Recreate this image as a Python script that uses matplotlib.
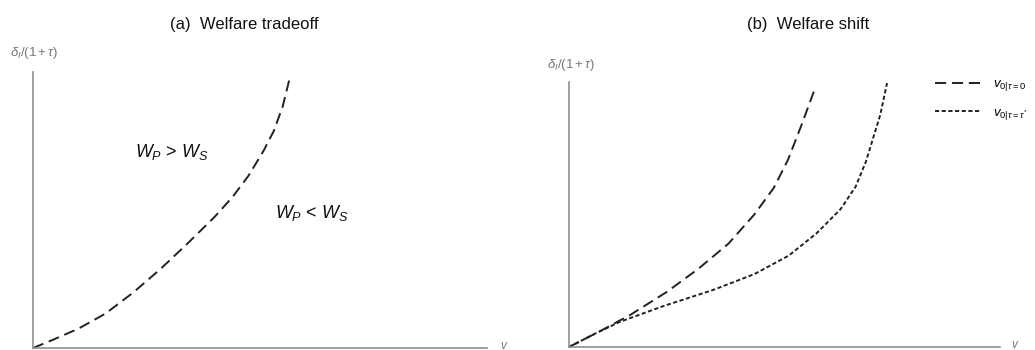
import matplotlib
matplotlib.use("Agg")
import matplotlib.pyplot as plt

plt.rcParams['font.family'] = ['Liberation Sans', 'DejaVu Sans']
plt.rcParams['mathtext.fontset'] = 'custom'
plt.rcParams['mathtext.rm'] = 'Liberation Sans'
plt.rcParams['mathtext.it'] = 'Liberation Sans:italic'
plt.rcParams['mathtext.bf'] = 'Liberation Sans:bold'
plt.rcParams['lines.scale_dashes'] = False

# Panel (a): boundary curve between regions (normalised axes)
tradeoff_v = [0.0, 0.04, 0.10, 0.16, 0.22, 0.28, 0.34, 0.40, 0.44, 0.475, 0.508, 0.53, 0.55, 0.566]
tradeoff_d = [0.0, 0.027, 0.07, 0.125, 0.20, 0.285, 0.378, 0.475, 0.548, 0.625, 0.715, 0.785, 0.875, 0.982]

# Panel (b): two curves
shift_v_tau0 = [0.0, 0.07, 0.142, 0.227, 0.30, 0.37, 0.43, 0.475, 0.508, 0.54, 0.571]
shift_d_tau0 = [0.0, 0.058, 0.121, 0.208, 0.295, 0.39, 0.50, 0.60, 0.706, 0.84, 0.977]
shift_v_taustar = [0.0, 0.06, 0.118, 0.22, 0.334, 0.43, 0.51, 0.575, 0.63, 0.665, 0.689, 0.705, 0.722, 0.738]
shift_d_taustar = [0.0, 0.05, 0.095, 0.155, 0.215, 0.275, 0.345, 0.43, 0.52, 0.605, 0.70, 0.785, 0.875, 0.996]

titles = ["(a)  Welfare tradeoff", "(b)  Welfare shift"]
ylabel = r"$\delta_I/(1+\tau)$"
xlabel = r"$v$"
region_labels = [r"$W_P$ > $W_S$", r"$W_P$ < $W_S$"]
legend_labels = [r"$v_{0|\tau=0}$", r"$v_{0|\tau=\tau^{*}}$"]

W, H = 1035, 350
fig = plt.figure(figsize=(W / 100, H / 100), dpi=100)

def fx(px):
    return px / W

def fy(py):
    return 1 - py / H

axis_col = '#8f8f8f'
curve_col = '#222222'
long_dash = (0, (8.0, 4.2))
short_dash = (0, (3.0, 1.8))

def make_axes(x0, x1, ytop, ybot):
    ax = fig.add_axes([fx(x0), fy(ybot), fx(x1) - fx(x0), fy(ytop) - fy(ybot)])
    ax.set_xlim(0, 1)
    ax.set_ylim(0, 1)
    for s in ['top', 'right']:
        ax.spines[s].set_visible(False)
    for s in ['left', 'bottom']:
        ax.spines[s].set_color(axis_col)
        ax.spines[s].set_linewidth(1.2)
    ax.set_xticks([])
    ax.set_yticks([])
    ax.patch.set_alpha(0)
    return ax

ax1 = make_axes(33, 487, 72, 348)
ax1.plot(tradeoff_v, tradeoff_d, color=curve_col, lw=1.4, linestyle=long_dash, clip_on=False)
ax1.text(0.225, 0.71, region_labels[0], fontsize=13, ha='left', va='center', color='#111111')
ax1.text(0.533, 0.489, region_labels[1], fontsize=13, ha='left', va='center', color='#111111')

ax2 = make_axes(569, 1000, 82, 347)
l1, = ax2.plot(shift_v_tau0, shift_d_tau0, color=curve_col, lw=1.4, linestyle=long_dash, clip_on=False)
l2, = ax2.plot(shift_v_taustar, shift_d_taustar, color=curve_col, lw=1.4, linestyle=short_dash, clip_on=False)

fig.legend([l1, l2], legend_labels, loc='center left', frameon=False,
           bbox_to_anchor=(fx(930), fy(100)), fontsize=9.5, handlelength=3.5,
           handletextpad=0.9, labelspacing=1.0, borderaxespad=0)

fig.text(fx(170), fy(25), titles[0], fontsize=12, ha='left', va='center', color='#111111')
fig.text(fx(747), fy(25), titles[1], fontsize=12, ha='left', va='center', color='#111111')

fig.text(fx(10), fy(53), ylabel, fontsize=9.5, ha='left', va='center', color='#777777')
fig.text(fx(547), fy(65), ylabel, fontsize=9.5, ha='left', va='center', color='#777777')
fig.text(fx(500), fy(346), xlabel, fontsize=8.5, ha='left', va='center', color='#777777')
fig.text(fx(1011), fy(345), xlabel, fontsize=8.5, ha='left', va='center', color='#777777')

fig.savefig("out.png", dpi=100, facecolor='white')
